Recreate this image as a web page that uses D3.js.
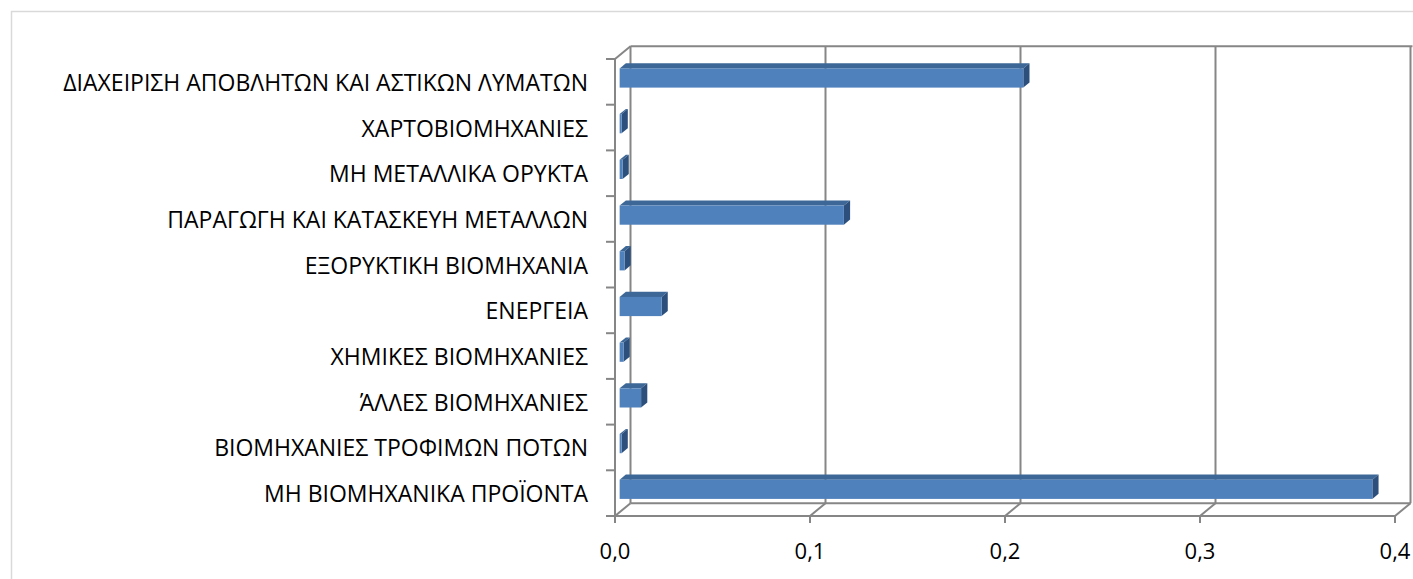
<!DOCTYPE html>
<html>
<head>
<meta charset="utf-8">
<script src="https://cdn.jsdelivr.net/npm/d3@7"></script>
<style>
  html, body { margin: 0; padding: 0; background: #fff; }
  svg { display: block; }
  text { font-family: "Open Sans", "Noto Sans", sans-serif; fill: #000; }
</style>
</head>
<body>
<svg id="chart" width="1413" height="579"></svg>
<script>
// Sectors, bottom to top
const categories = [
  "ΜΗ ΒΙΟΜΗΧΑΝΙΚΑ ΠΡΟΪΟΝΤΑ",
  "ΒΙΟΜΗΧΑΝΙΕΣ ΤΡΟΦΙΜΩΝ ΠΟΤΩΝ",
  "ΆΛΛΕΣ ΒΙΟΜΗΧΑΝΙΕΣ",
  "ΧΗΜΙΚΕΣ ΒΙΟΜΗΧΑΝΙΕΣ",
  "ΕΝΕΡΓΕΙΑ",
  "ΕΞΟΡΥΚΤΙΚΗ ΒΙΟΜΗΧΑΝΙΑ",
  "ΠΑΡΑΓΩΓΗ ΚΑΙ ΚΑΤΑΣΚΕΥΗ ΜΕΤΑΛΛΩΝ",
  "ΜΗ ΜΕΤΑΛΛΙΚΑ ΟΡΥΚΤΑ",
  "ΧΑΡΤΟΒΙΟΜΗΧΑΝΙΕΣ",
  "ΔΙΑΧΕΙΡΙΣΗ ΑΠΟΒΛΗΤΩΝ ΚΑΙ ΑΣΤΙΚΩΝ ΛΥΜΑΤΩΝ"
];
const values = [0.386, 0.001, 0.011, 0.002, 0.0215, 0.0025, 0.115, 0.0015, 0.001, 0.207];
const xTicks = [0, 0.1, 0.2, 0.3, 0.4];
const xTickLabels = ["0,0", "0,1", "0,2", "0,3", "0,4"];

const svg = d3.select("#chart");

// chart area border
svg.append("rect")
  .attr("x", 11.5).attr("y", 11.5).attr("width", 1420).attr("height", 580)
  .attr("fill", "none").attr("stroke", "#d9d9d9").attr("stroke-width", 1.5);

// front-plane scales
const x = d3.scaleLinear().domain([0, 0.4]).range([615, 1395]);
const y = d3.scaleBand().domain(d3.range(categories.length).reverse()).range([59, 516]).padding(0);

// depth vector of the 3D box (front -> back)
const DX = 15.5, DY = -12.8;
const yBottom = 516, yTop = 59;

const grid = "#868686";
const g = svg.append("g").attr("fill", "none").attr("stroke", grid).attr("stroke-width", 2);

// back wall vertical gridlines
xTicks.forEach(t => {
  g.append("line")
    .attr("x1", x(t) + DX).attr("x2", x(t) + DX)
    .attr("y1", yTop + DY).attr("y2", yBottom + DY);
});
// back wall top edge
g.append("line").attr("x1", x(0) + DX).attr("x2", x(0.4) + DX + 2)
  .attr("y1", yTop + DY).attr("y2", yTop + DY);
// floor back edge
g.append("line").attr("x1", x(0) + DX).attr("x2", x(0.4) + DX)
  .attr("y1", yBottom + DY).attr("y2", yBottom + DY);
// floor front edge
g.append("line").attr("x1", x(0)).attr("x2", x(0.4))
  .attr("y1", yBottom).attr("y2", yBottom);
// floor diagonals
xTicks.forEach(t => {
  g.append("line")
    .attr("x1", x(t)).attr("y1", yBottom)
    .attr("x2", x(t) + DX).attr("y2", yBottom + DY);
});
// left wall
g.append("line").attr("x1", x(0)).attr("x2", x(0)).attr("y1", yTop).attr("y2", yBottom);
g.append("line").attr("x1", x(0)).attr("y1", yTop).attr("x2", x(0) + DX).attr("y2", yTop + DY);

// category tick marks
d3.range(categories.length + 1).forEach(i => {
  const yy = yTop + i * y.bandwidth();
  g.append("line").attr("x1", x(0) - 9).attr("x2", x(0)).attr("y1", yy).attr("y2", yy);
});
// value axis tick marks
xTicks.forEach(t => {
  g.append("line").attr("x1", x(t)).attr("x2", x(t)).attr("y1", yBottom).attr("y2", yBottom + 7);
});

// 3D bars
const f0 = 0.3, f1 = 0.7;           // bar depth fractions
const barH = y.bandwidth() * 0.42;
const bars = svg.append("g");
values.forEach((v, i) => {
  const cy = y(i) + y.bandwidth() / 2;
  const ox = DX * f0, oy = DY * f0;
  const ddx = DX * (f1 - f0), ddy = DY * (f1 - f0);
  const x0 = x(0) + ox, x1 = x(v) + ox;
  const y0 = cy - barH / 2 + oy, y1 = cy + barH / 2 + oy;
  // top face
  bars.append("path")
    .attr("d", `M${x0},${y0} L${x0 + ddx},${y0 + ddy} L${x1 + ddx},${y0 + ddy} L${x1},${y0} Z`)
    .attr("fill", "#3d6797");
  // side face
  bars.append("path")
    .attr("d", `M${x1},${y0} L${x1 + ddx},${y0 + ddy} L${x1 + ddx},${y1 + ddy} L${x1},${y1} Z`)
    .attr("fill", "#2c4f7c");
  // front face
  bars.append("rect")
    .attr("x", x0).attr("y", y0).attr("width", Math.max(0, x1 - x0)).attr("height", barH)
    .attr("fill", "#4f81bd");
});

// category labels
svg.append("g").selectAll("text").data(categories).join("text")
  .attr("x", 588)
  .attr("y", (d, i) => y(i) + y.bandwidth() / 2)
  .attr("text-anchor", "end")
  .attr("dominant-baseline", "central")
  .attr("font-size", 23)
  .text(d => d);

// value labels
svg.append("g").selectAll("text").data(xTicks).join("text")
  .attr("x", d => x(d))
  .attr("y", 550)
  .attr("text-anchor", "middle")
  .attr("dominant-baseline", "central")
  .attr("font-size", 22)
  .text((d, i) => xTickLabels[i]);
</script>
</body>
</html>
